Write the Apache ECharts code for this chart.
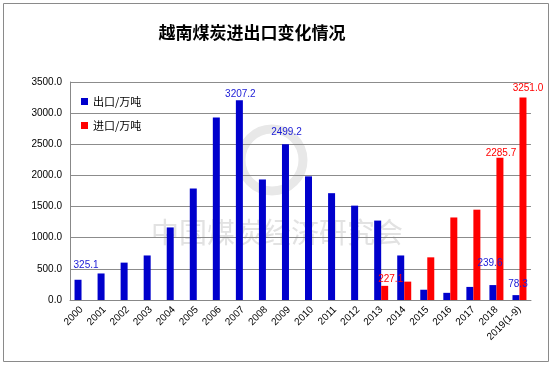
<!DOCTYPE html>
<html><head><meta charset="utf-8">
<script src="https://cdn.jsdelivr.net/npm/echarts@6/dist/echarts.min.js"></script>
<style>html,body{margin:0;padding:0;background:#fff}#c{width:553px;height:367px}</style>
</head><body><div id="c"></div>
<script>
const categories = ['2000','2001','2002','2003','2004','2005','2006','2007','2008','2009','2010','2011','2012','2013','2014','2015','2016','2017','2018','2019(1-9)'];
const exportValues = [325.1,426,600,715,1165,1790,2930,3207.2,1935,2499.2,1985,1715,1515,1275,715,165,115,210,239.6,78.3];
const importValues = [null,null,null,null,null,null,null,null,null,null,null,null,null,227.1,295,685,1325,1450,2285.7,3251.0];
const yTicks = [0,500,1000,1500,2000,2500,3000,3500];
const exportLabelIdx = {0:[8,-6],7:[1,3],9:[1,-3],18:[-3,-13],19:[2,-2]};
const importLabelIdx = {13:[6,2],18:[1,5],19:[5,0]};

function mk(vals, labels, color){
  return vals.map((v,i)=>{
    if (labels[i]) return {value:v,label:{show:true,position:'top',distance:4,offset:labels[i],color:color,fontSize:10,fontFamily:'Liberation Sans',formatter:p=>Number(p.value).toFixed(1)}};
    return v;
  });
}
const chart = echarts.init(document.getElementById('c'));
chart.setOption({
  animation:false,
  graphic:[
    {type:'rect',shape:{x:3.5,y:3.5,width:545,height:358},style:{fill:'none',stroke:'#8a8a8a',lineWidth:1},z:-1},
    {type:'text',style:{text:'越南煤炭进出口变化情况',x:252,y:33,textAlign:'center',textVerticalAlign:'middle',font:'bold 17px "Noto Sans CJK SC"',fill:'#000'},z:10},
    {type:'circle',shape:{cx:272,cy:160,r:31},style:{fill:'none',stroke:'#e8e8e8',lineWidth:9},z:-1},
    {type:'text',style:{text:'中国煤炭经济研究会',x:277,y:232,textAlign:'center',textVerticalAlign:'middle',font:'28px "Noto Sans CJK SC"',fill:'#e2e2e2'},z:-1}
  ],
  grid:{left:70,right:22,top:82,bottom:67},
  legend:{orient:'vertical',left:81,top:96,itemWidth:7,itemHeight:7,itemGap:13,icon:'rect',padding:0,
    textStyle:{fontSize:11,fontFamily:'Noto Sans CJK SC',color:'#000'},
    data:['出口/万吨','进口/万吨']},
  xAxis:{type:'category',data:categories,
    axisLine:{lineStyle:{color:'#888'}},axisTick:{show:false},
    axisLabel:{rotate:45,interval:0,fontSize:10,fontFamily:'Liberation Sans',color:'#000',margin:8}},
  yAxis:{type:'value',min:0,max:3500,interval:500,
    axisLine:{show:true,lineStyle:{color:'#888'}},axisTick:{show:false},
    splitLine:{lineStyle:{color:'#8c8c8c'}},
    axisLabel:{fontSize:10,fontFamily:'Liberation Sans',color:'#000',margin:8,formatter:v=>v.toFixed(1)}},
  series:[
    {name:'出口/万吨',type:'bar',barWidth:7,barGap:'0%',itemStyle:{color:'#0000CC'},data:mk(exportValues,exportLabelIdx,'#1a1ad6')},
    {name:'进口/万吨',type:'bar',barWidth:7,barGap:'0%',itemStyle:{color:'#FF0000'},data:mk(importValues,importLabelIdx,'#ff0000')}
  ]
});
</script></body></html>
